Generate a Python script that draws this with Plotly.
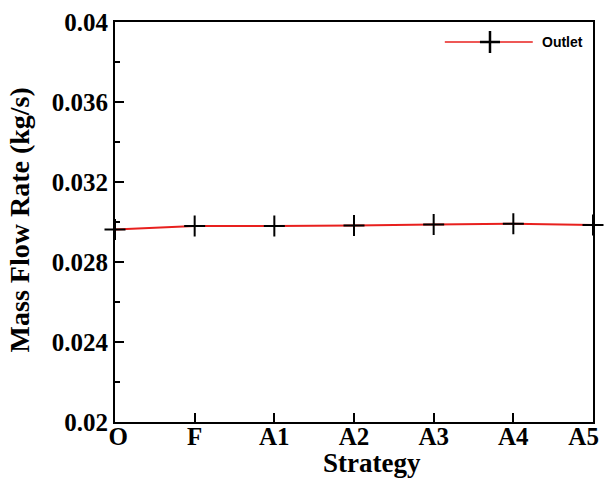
import plotly.graph_objects as go

strategies = ["O", "F", "A1", "A2", "A3", "A4", "A5"]
outlet_flow = [0.02963, 0.02980, 0.02980, 0.02982, 0.02988, 0.02991, 0.02985]

y_tickvals = [0.02, 0.024, 0.028, 0.032, 0.036, 0.04]
y_ticktext = ["0.02", "0.024", "0.028", "0.032", "0.036", "0.04"]

serif = "Liberation Serif, Times New Roman, serif"
sans = "Liberation Sans, Arial, sans-serif"
line_red = "#e8201e"

# end labels nudged inward so they stay inside the page
x_ticktext = list(strategies)
x_ticktext[0] = "\u00a0" + x_ticktext[0]
x_ticktext[-1] = x_ticktext[-1] + "\u00a0\u00a0\u00a0"

fig = go.Figure()
fig.add_trace(go.Scatter(
    x=list(range(len(strategies))),
    y=outlet_flow,
    mode="lines+markers",
    name="Outlet",
    showlegend=False,
    line=dict(color=line_red, width=2),
    marker=dict(symbol="cross-thin", size=15, color="black",
                line=dict(color="black", width=2)),
    cliponaxis=False,
))

# Legend key drawn in paper coordinates: long red line, black cross, label
fig.add_shape(type="line", xref="paper", yref="paper",
              x0=0.690, x1=0.874, y0=0.95, y1=0.95,
              line=dict(color=line_red, width=1.5))
fig.add_shape(type="line", xref="paper", yref="paper",
              x0=0.7635, x1=0.8055, y0=0.95, y1=0.95,
              line=dict(color="black", width=2.5))
fig.add_shape(type="line", xref="paper", yref="paper",
              x0=0.7845, x1=0.7845, y0=0.9225, y1=0.9775,
              line=dict(color="black", width=2.5))
fig.add_annotation(text="Outlet", xref="paper", yref="paper",
                   x=0.889, y=0.95, xanchor="left", yanchor="middle",
                   showarrow=False,
                   font=dict(family=sans, size=14, color="black", weight="bold"))

# Axis titles
fig.add_annotation(text="Strategy", xref="paper", yref="paper",
                   x=0.538, y=-0.1025, xanchor="center", yanchor="middle",
                   showarrow=False,
                   font=dict(family=serif, size=27, color="black", weight="bold"))
fig.add_annotation(text="Mass Flow Rate (kg/s)", xref="paper", yref="paper",
                   x=-0.2, y=0.505, xanchor="center", yanchor="middle",
                   textangle=-90, showarrow=False,
                   font=dict(family=serif, size=28, color="black", weight="bold"))

fig.update_layout(
    width=606, height=480,
    margin=dict(l=115, r=13, t=22, b=58),
    plot_bgcolor="white", paper_bgcolor="white",
    showlegend=False,
)

fig.update_xaxes(
    range=[0, len(strategies) - 1],
    tickvals=list(range(len(strategies))),
    ticktext=x_ticktext,
    ticks="inside", ticklen=9, tickwidth=2, tickcolor="black",
    showline=True, linecolor="black", linewidth=2, mirror=True,
    showgrid=False, zeroline=False, automargin=False,
    ticklabeloverflow="allow", ticklabelstandoff=-9,
    tickfont=dict(family=serif, size=25, color="black", weight="bold"),
)

fig.update_yaxes(
    range=[0.02, 0.04],
    tickvals=y_tickvals,
    ticktext=y_ticktext,
    ticks="inside", ticklen=9, tickwidth=2, tickcolor="black",
    minor=dict(dtick=0.002, ticks="inside", ticklen=5, tickwidth=2, tickcolor="black"),
    showline=True, linecolor="black", linewidth=2, mirror=True,
    showgrid=False, zeroline=False, automargin=False,
    ticklabeloverflow="allow",
    tickfont=dict(family=serif, size=25, color="black", weight="bold"),
)

fig.write_html("out.html")
